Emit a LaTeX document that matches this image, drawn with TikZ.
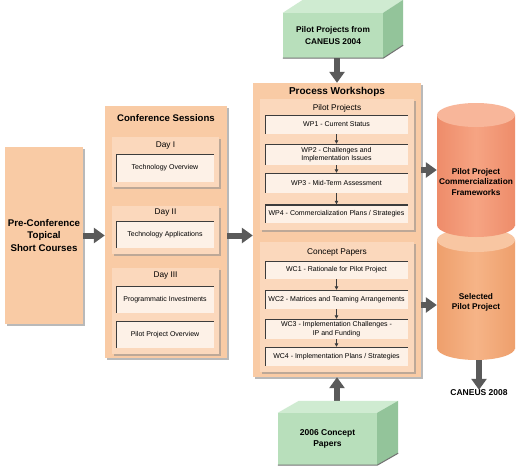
\documentclass[tikz,border=0pt]{standalone}
\usepackage{fontspec}
\setmainfont{Liberation Sans}
\usetikzlibrary{arrows.meta,shadows}
\definecolor{peach}{HTML}{F9CBA5}
\definecolor{peachmid}{HTML}{FBD8BC}
\definecolor{peachlight}{HTML}{FDF1E7}
\definecolor{greenfront}{HTML}{B8DFBB}
\definecolor{greentop}{HTML}{CFEBD1}
\definecolor{greenside}{HTML}{93C49A}
\definecolor{arrowgray}{HTML}{5A5A5A}
\definecolor{cylA}{HTML}{F6A483}
\definecolor{cylAdark}{HTML}{EE8C6A}
\definecolor{cylAtop}{HTML}{F8B69A}
\definecolor{cylB}{HTML}{F6B487}
\definecolor{cylBdark}{HTML}{EE9F6C}
\definecolor{cylBtop}{HTML}{F8C6A2}
\definecolor{edgedark}{HTML}{3C3C3C}
\begin{document}
\begin{tikzpicture}[x=1pt,y=-1pt,
  outerbox/.style={fill=peach, inner sep=0pt,
    drop shadow={shadow xshift=2pt,shadow yshift=-2pt,fill=black!50,opacity=0.55}},
  midbox/.style={fill=peachmid, inner sep=0pt,
    drop shadow={shadow xshift=1.5pt,shadow yshift=-1.5pt,fill=black!45,opacity=0.55}},
  itembox/.style={fill=peachlight, inner sep=0pt, align=center,
    font=\fontsize{7}{8.6}\selectfont,
    path picture={\draw[edgedark,line width=2pt]
      (path picture bounding box.south west) -- (path picture bounding box.north west)
      -- (path picture bounding box.north east);}},
  bigtitle/.style={font=\bfseries\fontsize{9.6}{11}\selectfont, inner sep=0pt},
  subtitle/.style={font=\fontsize{8.3}{10}\selectfont, inner sep=0pt},
  boldtext/.style={font=\bfseries\fontsize{8.3}{10.5}\selectfont, align=center, inner sep=0pt},
  greenfront/.style={fill=greenfront, inner sep=0pt, align=center,
    font=\bfseries\fontsize{8.3}{11.5}\selectfont},
  bigarrow/.style={draw=arrowgray, line width=6pt, -{Triangle[length=11pt,width=15pt]}},
  smallarrow/.style={draw=edgedark, line width=0.8pt, -{Triangle[length=3.5pt,width=3.5pt]}},
  cylAshade/.style={left color=cylAdark, right color=cylAdark, middle color=cylA},
  cylBshade/.style={left color=cylBdark, right color=cylBdark, middle color=cylB},
  hidden/.style={inner sep=0pt}
]
\useasboundingbox (0,0) rectangle (520,471);
\fill[white] (0,0) rectangle (520,471);

% ---------- Pre-conference ----------
\node[outerbox, minimum width=78pt, minimum height=177pt, align=center,
  font=\bfseries\fontsize{9.7}{12.5}\selectfont] (pre) at (44,235.5)
  {Pre-Conference\\Topical\\Short Courses};

% ---------- Conference sessions ----------
\node[outerbox, minimum width=122pt, minimum height=252pt] (conf) at (166,232) {};
\node[bigtitle] (conftitle) at (166,118) {Conference Sessions};

\node[midbox, minimum width=107pt, minimum height=50pt] (day1) at (165.5,162) {};
\node[subtitle] (day1t) at (165.5,146) {Day I};
\node[itembox, minimum width=98pt, minimum height=28pt] (techov) at (165,168) {Technology Overview};

\node[midbox, minimum width=107pt, minimum height=48pt] (day2) at (165.5,230) {};
\node[subtitle] (day2t) at (165.5,213) {Day II};
\node[itembox, minimum width=98pt, minimum height=27pt] (techapp) at (165,234.5) {Technology Applications};

\node[midbox, minimum width=107pt, minimum height=86pt] (day3) at (165.5,311) {};
\node[subtitle] (day3t) at (165.5,276) {Day III};
\node[itembox, minimum width=98pt, minimum height=27pt] (proginv) at (165,299.5) {Programmatic Investments};
\node[itembox, minimum width=98pt, minimum height=27pt] (pilotov) at (165,334.5) {Pilot Project Overview};

% ---------- Process workshops ----------
\node[outerbox, minimum width=168pt, minimum height=294pt] (procw) at (337,230) {};
\node[bigtitle, font=\bfseries\fontsize{10}{12}\selectfont] (procwt) at (337,92) {Process Workshops};

\node[midbox, minimum width=154pt, minimum height=131pt] (ppbox) at (337,164.5) {};
\node[subtitle] (ppboxt) at (337,108) {Pilot Projects};
\node[itembox, minimum width=143pt, minimum height=19pt] (wp1) at (336.5,124.5) {WP1 - Current Status};
\node[itembox, minimum width=143pt, minimum height=21pt] (wp2) at (336.5,154.5) {WP2 - Challenges and\\Implementation Issues};
\node[itembox, minimum width=143pt, minimum height=20pt] (wp3) at (336.5,183) {WP3 - Mid-Term Assessment};
\node[itembox, minimum width=143pt, minimum height=18pt] (wp4) at (336.5,213.5) {WP4 - Commercialization Plans / Strategies};
\draw[smallarrow] (wp1.south) -- (wp2.north);
\draw[smallarrow] (wp2.south) -- (wp3.north);
\draw[smallarrow] (wp3.south) -- (wp4.north);

\node[midbox, minimum width=154pt, minimum height=130pt] (cpbox) at (337,307) {};
\node[subtitle] (cpboxt) at (337,252) {Concept Papers};
\node[itembox, minimum width=143pt, minimum height=18pt] (wc1) at (336.5,270) {WC1 - Rationale for Pilot Project};
\node[itembox, minimum width=143pt, minimum height=19pt] (wc2) at (336.5,299.5) {WC2 - Matrices and Teaming Arrangements};
\node[itembox, minimum width=143pt, minimum height=20pt] (wc3) at (336.5,329) {WC3 - Implementation Challenges -\\IP and Funding};
\node[itembox, minimum width=143pt, minimum height=19pt] (wc4) at (336.5,356.5) {WC4 - Implementation Plans / Strategies};
\draw[smallarrow] (wc1.south) -- (wc2.north);
\draw[smallarrow] (wc2.south) -- (wc3.north);
\draw[smallarrow] (wc3.south) -- (wc4.north);

% ---------- Cylinders ----------
% cylinder 2 (behind)
\shade[cylBshade] (476,348) ellipse [x radius=39, y radius=12];
\shade[cylBshade] (437,240) rectangle (515,348);
\fill[cylBtop] (476,240) ellipse [x radius=39, y radius=12];
% cylinder 1 (front)
\shade[cylAshade] (476,225) ellipse [x radius=39, y radius=12];
\shade[cylAshade] (437,115) rectangle (515,225);
\fill[cylAtop] (476,115) ellipse [x radius=39, y radius=12];

\node[hidden, minimum width=78pt, minimum height=134pt] (cylone) at (476,170) {};
\node[hidden, minimum width=78pt, minimum height=110pt] (cyltwo) at (476,305) {};
\node[boldtext] (cylonet) at (476,182) {Pilot Project\\Commercialization\\Frameworks};
\node[boldtext] (cyltwot) at (476,302.5) {Selected\\Pilot Project};
\node[boldtext, font=\bfseries\fontsize{8.5}{10}\selectfont] (caneus) at (479,393) {CANEUS 2008};

% ---------- Green boxes ----------
\draw[bigarrow] (procw.south |- 0,413) -- (procw.south);

\node[greenfront, minimum width=100pt, minimum height=45pt] (gtop) at (333,35.5)
  {Pilot Projects from\\CANEUS 2004};
\fill[greentop] (gtop.north west) -- ++(20,-13) -- ([shift={(20,-13)}]gtop.north east) -- (gtop.north east) -- cycle;
\fill[greenside] (gtop.north east) -- ++(20,-13) -- ([shift={(20,-13)}]gtop.south east) -- (gtop.south east) -- cycle;
\draw[black!55, line width=1pt] (gtop.south west) -- (gtop.south east) -- ++(20,-13);

\node[greenfront, minimum width=99pt, minimum height=52pt, font=\bfseries\fontsize{8.5}{10.5}\selectfont] (gbot) at (327.5,439)
  {2006 Concept\\Papers};
\fill[greentop] (gbot.north west) -- ++(21,-12) -- ([shift={(21,-12)}]gbot.north east) -- (gbot.north east) -- cycle;
\fill[greenside] (gbot.north east) -- ++(21,-12) -- ([shift={(21,-12)}]gbot.south east) -- (gbot.south east) -- cycle;
\draw[black!55, line width=1pt] (gbot.south west) -- (gbot.south east) -- ++(21,-12);

% ---------- Big arrows ----------
\draw[bigarrow] (pre.east) -- (pre.east -| conf.west);
\draw[bigarrow] (conf.east |- pre.east) -- (procw.west |- pre.east);
\draw[bigarrow] (procw.north |- gtop.south) -- (procw.north);
\draw[bigarrow] (procw.east |- cylone.west) -- (cylone.west);
\draw[bigarrow] (procw.east |- cyltwo.west) -- (cyltwo.west);
\draw[bigarrow] (caneus.north |- cyltwo.south) -- (caneus.north);
\end{tikzpicture}
\end{document}
